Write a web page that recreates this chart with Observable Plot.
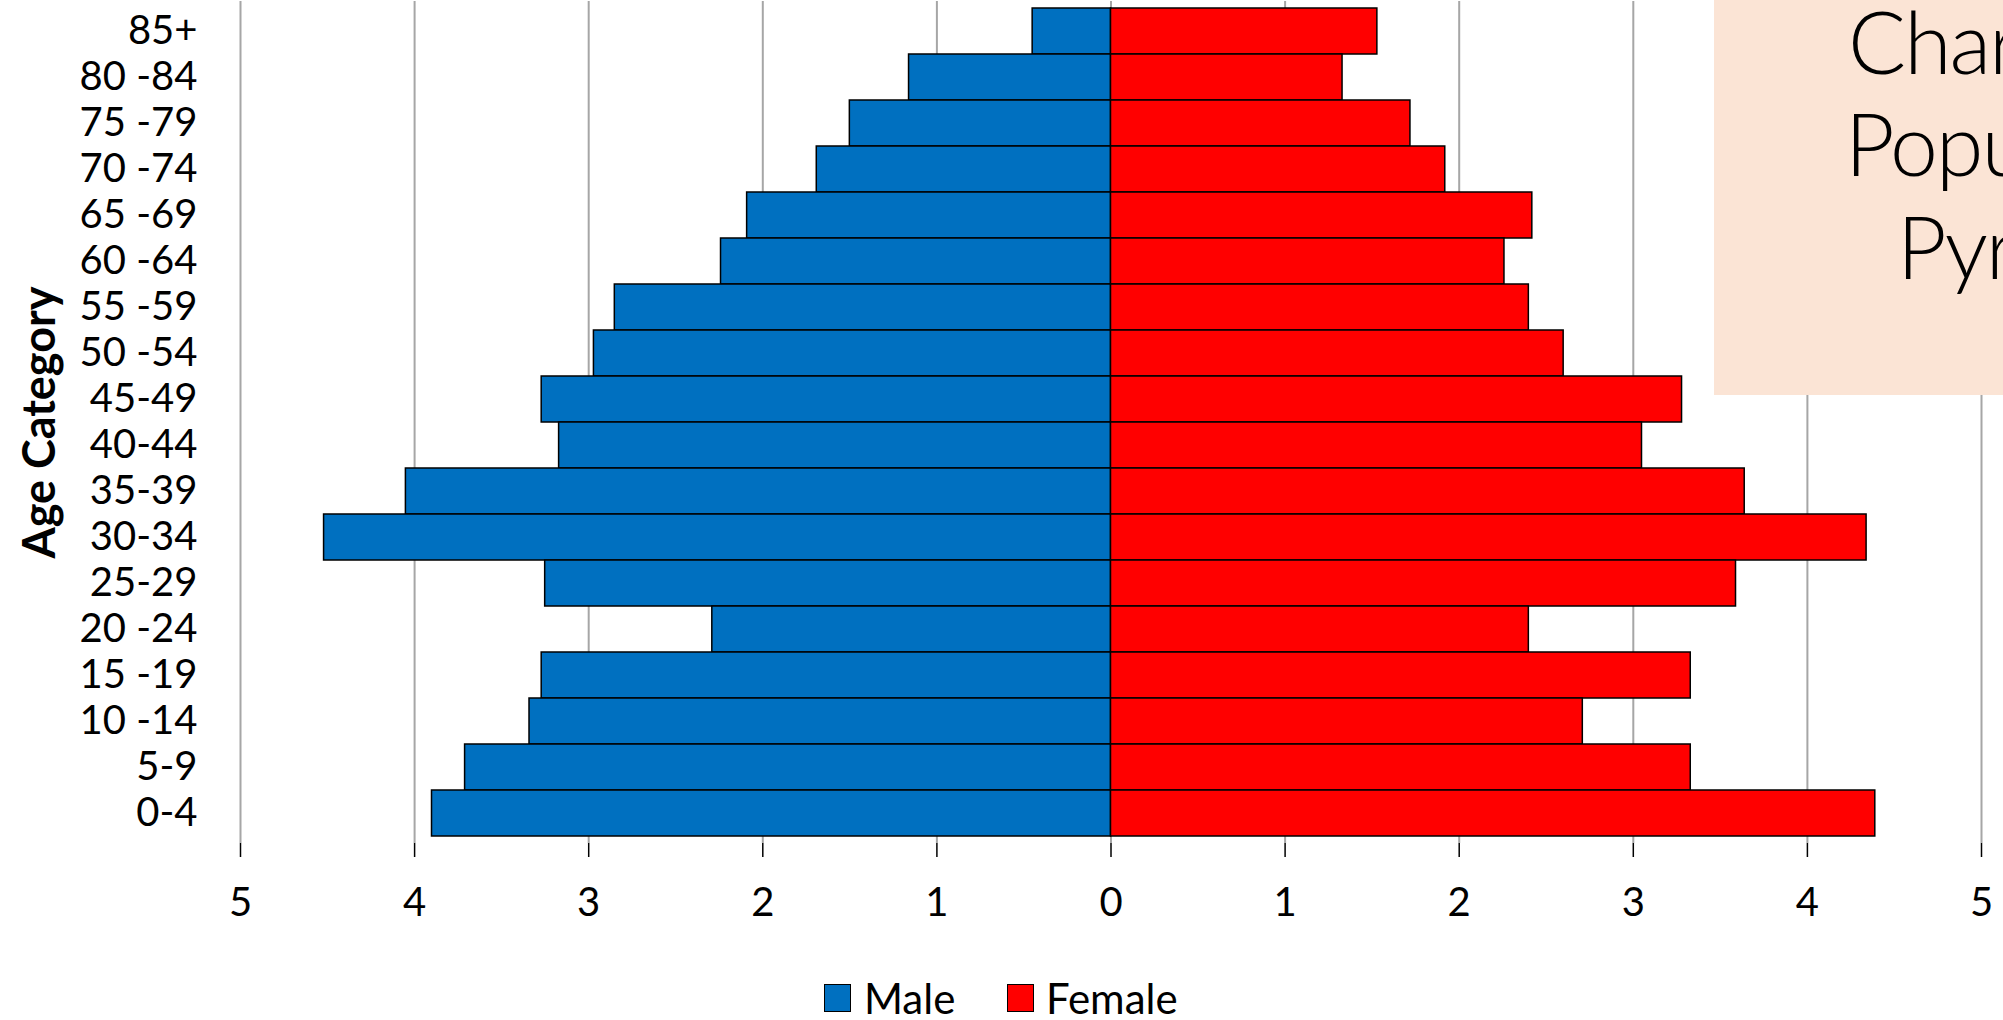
<!DOCTYPE html>
<html>
<head>
<meta charset="utf-8">
<script src="https://cdn.jsdelivr.net/npm/d3@7"></script>
<script src="https://cdn.jsdelivr.net/npm/@observablehq/plot@0.6"></script>
<style>
  html, body { margin: 0; padding: 0; background: #fff; width: 2003px; height: 1020px; overflow: hidden; position: relative; font-family: Lato, "Open Sans", sans-serif; }
  #chart { position: absolute; left: 0; top: 0; }
  #titlebox { position: absolute; left: 1714px; top: 0; width: 400px; height: 395px; background: #FBE4D5; overflow: hidden; z-index: 2; }
  #titlebox div { position: absolute; font-family: Lato, "Open Sans", sans-serif; font-weight: 300; font-size: 86px; letter-spacing: -2px; white-space: nowrap; color: #000; line-height: 1; }
  .lg { position: absolute; }
  .sw { width: 27px; height: 28px; border: 1.5px solid #000; box-sizing: border-box; top: 984px; }
  .lt { top: 973px; height: 50px; line-height: 50px; font-family: Lato, sans-serif; font-size: 42px; color: #000; }
</style>
</head>
<body>
<div id="chart"></div>
<div id="titlebox">
  <div style="left:134px; top:-2px;">Characteristics of</div>
  <div style="left:131px; top:100px;">Population</div>
  <div style="left:183px; top:203px;">Pyramids</div>
</div>
<div id="legend"></div>
<script>
// Age categories, top to bottom
const ageGroups = ["85+", "80 -84", "75 -79", "70 -74", "65 -69", "60 -64", "55 -59", "50 -54", "45-49", "40-44", "35-39", "30-34", "25-29", "20 -24", "15 -19", "10 -14", "5-9", "0-4"];
// Percentage of population
const maleValues =   [0.45, 1.16, 1.50, 1.69, 2.09, 2.24, 2.85, 2.97, 3.27, 3.17, 4.05, 4.52, 3.25, 2.29, 3.27, 3.34, 3.71, 3.90];
const femaleValues = [1.53, 1.33, 1.72, 1.92, 2.42, 2.26, 2.40, 2.60, 3.28, 3.05, 3.64, 4.34, 3.59, 2.40, 3.33, 2.71, 3.33, 4.39];
const xTicks = [-5, -4, -3, -2, -1, 0, 1, 2, 3, 4, 5];
const seriesNames = ["Male", "Female"];
const seriesColors = ["#0070C0", "#FF0000"];
const yAxisTitle = "Age Category";

const rows = [];
ageGroups.forEach((age, i) => {
  rows.push({age, sex: seriesNames[0], value: -maleValues[i]});
  rows.push({age, sex: seriesNames[1], value: femaleValues[i]});
});

const chart = Plot.plot({
  width: 2003,
  height: 933,
  marginLeft: 240,
  marginRight: 22,
  marginTop: 1,
  marginBottom: 90,
  style: {fontFamily: "Lato, 'Open Sans', sans-serif", fontSize: "40px", color: "#000", background: "transparent"},
  x: {domain: [-5, 5], label: null},
  y: {domain: ageGroups, padding: 0, label: null},
  color: {domain: seriesNames, range: seriesColors},
  marks: [
    Plot.ruleX(xTicks, {stroke: "#A6A6A6", strokeWidth: 2}),
    Plot.barX(rows, {x1: 0, x2: "value", y: "age", fill: "sex", stroke: "#000", strokeWidth: 1.5}),
    Plot.axisX({ticks: xTicks, tickSize: 14, tickPadding: 30, tickFormat: d => String(Math.abs(d)), stroke: "#000", strokeWidth: 1.5, fontSize: 40, label: null}),
    Plot.ruleY([0], {frameAnchor: "bottom", stroke: "#000", strokeWidth: 2}),
    Plot.axisY({tickSize: 0, tickPadding: 43, fontSize: 40, label: null}),
    Plot.text([yAxisTitle], {frameAnchor: "left", textAnchor: "middle", rotate: -90, dx: -200, fontWeight: "bold", fontSize: 45})
  ]
});
document.getElementById("chart").appendChild(chart);

// Legend (HTML, below the SVG area)
const legend = document.getElementById("legend");
const legendPos = [{box: 824, text: 864}, {box: 1007, text: 1046}];
seriesNames.forEach((name, i) => {
  const sw = document.createElement("div");
  sw.className = "lg sw";
  sw.style.left = legendPos[i].box + "px";
  sw.style.background = seriesColors[i];
  legend.appendChild(sw);
  const t = document.createElement("div");
  t.className = "lg lt";
  t.style.left = legendPos[i].text + "px";
  t.textContent = name;
  legend.appendChild(t);
});
</script>
</body>
</html>
